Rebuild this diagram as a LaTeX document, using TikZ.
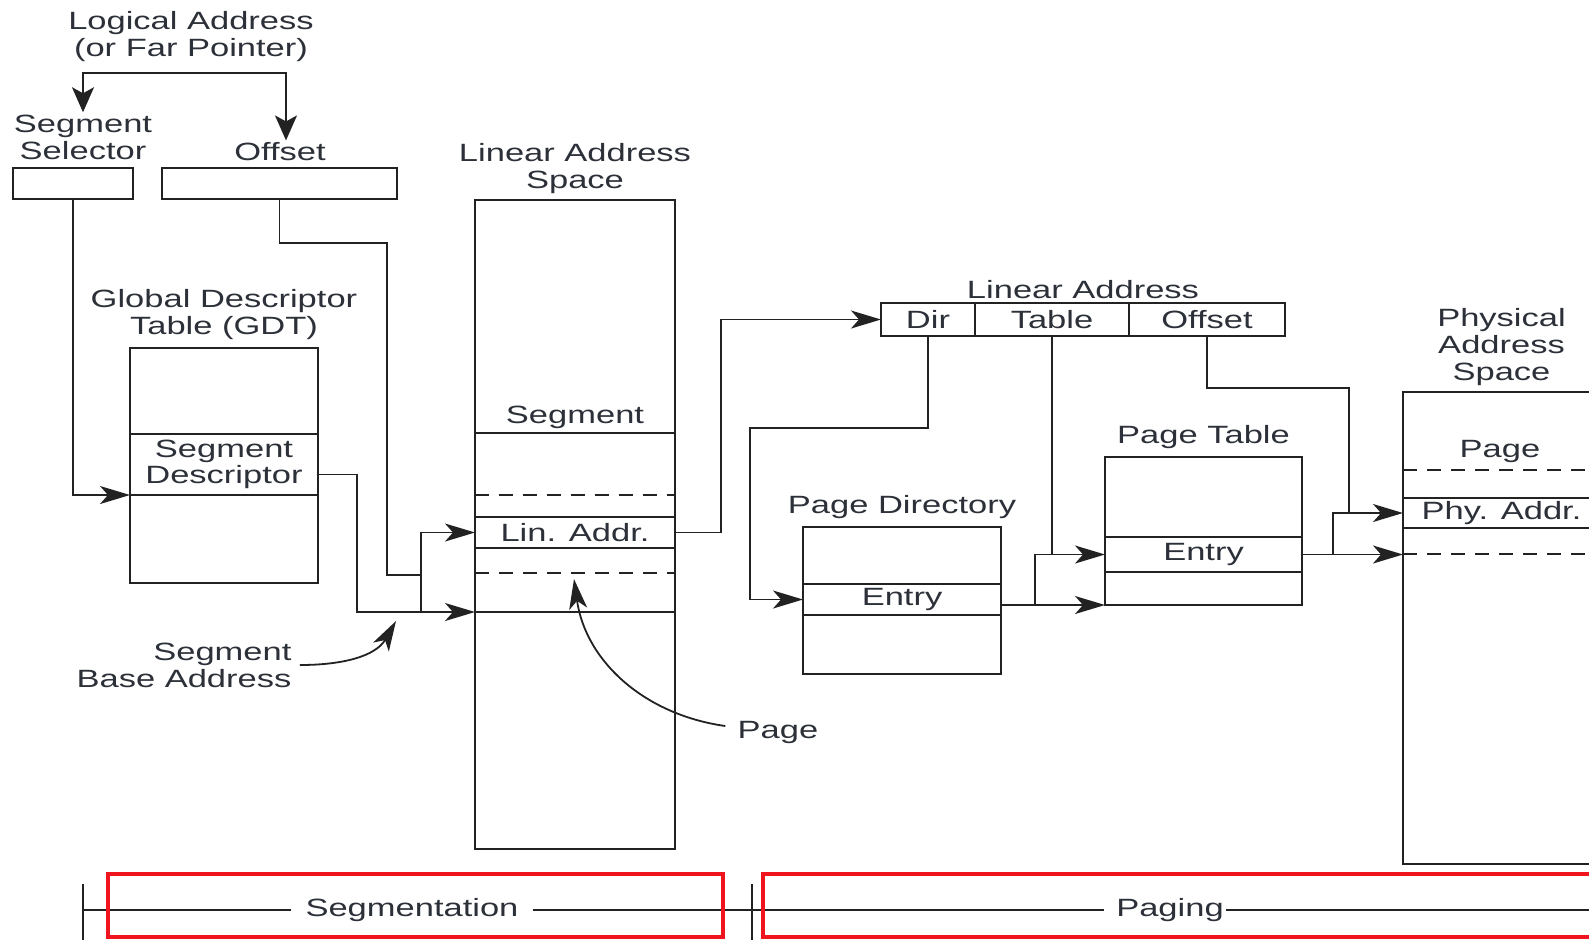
\documentclass[tikz,border=0pt]{standalone}
\usepackage{fontspec}
\setmainfont{Liberation Sans}[FakeStretch=1.38]
\usepackage{tikz}
\usetikzlibrary{arrows.meta,positioning,calc}
\definecolor{ink}     {HTML}{222222}
\definecolor{inktext} {HTML}{2C3038}
\definecolor{markred} {HTML}{F0141E}
\newcommand{\lblfont}{\fontsize{12.5}{13.5}\selectfont}
\newcommand{\descfont}{\fontsize{12.5}{11.5}\selectfont}
\tikzset{
  cell/.style={draw=ink,line width=0.9pt,inner sep=0pt,outer sep=0pt,font=\lblfont,text=inktext},
  lbl/.style={font=\lblfont,text=inktext,align=center,inner sep=1pt},
  wire/.style={draw=ink,line width=0.9pt},
  arr/.style={wire,-{Stealth[length=15pt,width=9pt,inset=4pt]}},
  arrfat/.style={wire,-{Stealth[length=12.5pt,width=11pt,inset=3pt]}},
  cutline/.style={draw=ink,line width=0.9pt,dash pattern=on 7pt off 5pt},
  redbox/.style={draw=markred,line width=2pt},
}

\begin{document}
\begin{tikzpicture}[x=0.5pt,y=-0.5pt]
\clip (0,0) rectangle (1589,939);
% logical address
\node[lbl] (logaddr) at (191,37) {Logical Address\\(or Far Pointer)};
\coordinate (split) at (190,73);
\node[lbl] (selT) at (83,137) {Segment\\Selector};
\node[lbl] (offT) at (280,152) {Offset};
\node[cell,minimum width=60pt,minimum height=15.5pt] (sel) at (73,183.5) {};
\node[cell,minimum width=117.5pt,minimum height=15.5pt] (off) at (279.5,183.5) {};
\draw[arrfat] (split) -| (selT.north);
\draw[arrfat] (split) -| ([xshift=3pt]offT.north);
% GDT
\node[cell,minimum width=94pt,minimum height=43pt] (gdttop) at (224,391) {};
\node[cell,minimum width=94pt,minimum height=30.5pt,below=0pt of gdttop,align=center,font=\descfont] (gdtdesc) {Segment\\Descriptor};
\node[cell,minimum width=94pt,minimum height=44pt,below=0pt of gdtdesc] (gdtbot) {};
\node[lbl,above=3pt of gdttop] (gdtT) {Global Descriptor\\Table (GDT)};
% linear address space
\node[cell,minimum width=100pt,minimum height=116.5pt] (lastop) at (575,316.5) {};
\node[cell,minimum width=100pt,minimum height=42pt,below=0pt of lastop] (lasmid) {};
\node[cell,minimum width=100pt,minimum height=15.5pt,below=0pt of lasmid] (lin) {Lin. Addr.};
\node[cell,minimum width=100pt,minimum height=32pt,below=0pt of lin] (lasgap) {};
\node[cell,minimum width=100pt,minimum height=118.5pt,below=0pt of lasgap] (lasbot) {};
\node[lbl,above=1pt of lasmid] (segT) {Segment};
\node[lbl,above=2pt of lastop] (lasT) {Linear Address\\Space};
\draw[cutline] ([yshift=11pt]lasmid.south west) -- ([yshift=11pt]lasmid.south east);
\draw[cutline] ([yshift=-12.5pt]lasgap.north west) -- ([yshift=-12.5pt]lasgap.north east);
% segmentation wires
\draw[arr] (sel.south) |- (gdtdesc.south west);
\draw[arr] ([yshift=-5pt]gdtdesc.east) -| (357,612) -- (lasbot.north west);
\draw[wire] (off.south) |- (387,243) |- (421,575);
\draw[arr] (421,612) |- (lin.west);
\node[lbl,align=right] (sbaT) at (184,665) {Segment\\Base Address};
\coordinate (sbatip) at (396,621);
\draw[arr] ([xshift=3pt]sbaT.east) to[out=0,in=-120] (sbatip);
\node[lbl] (pageT) at (778,732) {Page};
\coordinate (pagetip) at (574,579);
\draw[arr] ([xshift=-5pt,yshift=3pt]pageT.west) to[out=172,in=-82] (pagetip);
% linear address
\node[cell,minimum width=47pt,minimum height=16.5pt] (dir) at (928,319.5) {Dir};
\node[cell,minimum width=77pt,minimum height=16.5pt,right=0pt of dir] (tab) {Table};
\node[cell,minimum width=78pt,minimum height=16.5pt,right=0pt of tab] (lofs) {Offset};
\node[lbl,above=1pt] (linT) at ($(dir.north west)!0.5!(lofs.north east)$) {Linear Address};
\draw[arr] (lin.east) -- ++(46,0) |- (dir.west);
% page directory
\node[cell,minimum width=99pt,minimum height=28.5pt] (pdtop) at (902,555.5) {};
\node[cell,minimum width=99pt,minimum height=15.5pt,below=0pt of pdtop] (pdent) {Entry};
\node[cell,minimum width=99pt,minimum height=29.5pt,below=0pt of pdent] (pdbot) {};
\node[lbl,above=3pt of pdtop] (pdT) {Page Directory};
\draw[arr] (dir.south) |- (750,428) |- (pdent.west);
% page table
\node[cell,minimum width=98.5pt,minimum height=40pt] (pttop) at (1203.5,497) {};
\node[cell,minimum width=98.5pt,minimum height=17.5pt,below=0pt of pttop] (ptent) {Entry};
\node[cell,minimum width=98.5pt,minimum height=16.5pt,below=0pt of ptent] (ptbot) {};
\node[lbl,above=3pt of pttop] (ptT) {Page Table};
\draw[arr] (tab.south) |- (ptent.west);
\draw[arr] (pdent.east |- ptbot.south) -- (ptbot.south west);
\coordinate (jpd) at (1035,605);
\draw[wire] (jpd) |- (tab.south |- ptent.west);
% physical address space
\node[cell,minimum width=98.5pt,minimum height=53pt] (pastop) at (1501.5,445) {};
\node[cell,minimum width=98.5pt,minimum height=15pt,below=0pt of pastop] (phy) {Phy. Addr.};
\node[cell,minimum width=98.5pt,minimum height=168pt,below=0pt of phy] (pasbot) {};
\node[lbl,above=2pt of pastop] (pasT) {Physical\\Address\\Space};
\node[lbl] (pageP) at (1500,451) {Page};
\draw[cutline] ([yshift=14pt]pastop.south west) -- ([yshift=14pt]pastop.south east);
\draw[cutline] ([yshift=-13pt]pasbot.north west) -- ([yshift=-13pt]pasbot.north east);
\draw[arr] (ptent.east) -- (pasbot.west |- ptent.east);
\coordinate (jpt) at (1333,554.5);
\draw[arr] (jpt) |- (phy.west);
\draw[wire] (lofs.south) |- (1349,388) -- (1349,388 |- phy.west);
% bottom bar
\coordinate (tickL) at (83,910);
\coordinate (tickM) at (752,910);
\coordinate (barR) at (1600,910);
\draw[wire] (83,884) -- (83,945);
\draw[wire] (752,884) -- (752,945);
\node[lbl,inner xsep=7pt] (segmT) at (412,910) {Segmentation};
\node[lbl,inner xsep=1pt] (pagingT) at (1170,910) {Paging};
\draw[wire] (tickL) -- (segmT.west);
\draw[wire] (segmT.east) -- (tickM) -- ([xshift=-5pt]pagingT.west);
\draw[wire] (pagingT.east) -- (barR);
\draw[redbox] (108,874) rectangle (723,937);
\draw[redbox] (763,874) rectangle (1640,937);
\end{tikzpicture}
\end{document}
